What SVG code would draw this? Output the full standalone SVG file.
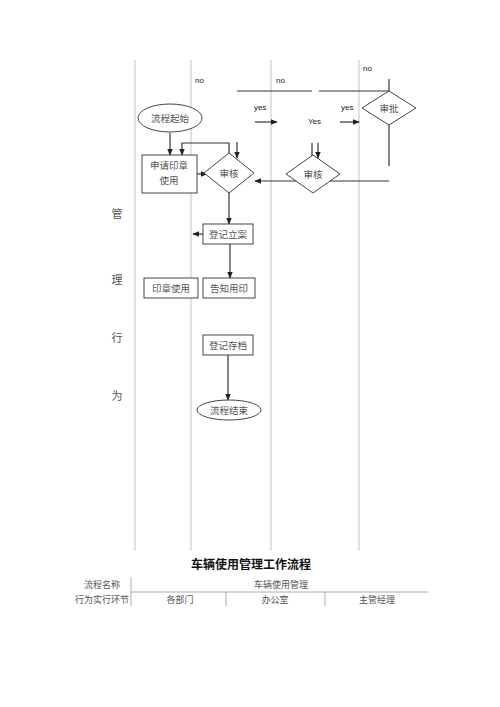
<svg xmlns="http://www.w3.org/2000/svg" width="500" height="707" viewBox="0 0 500 707">
<style>
.lane{stroke:#c4c4c4;stroke-width:1;fill:none}
.ln{stroke:#333;stroke-width:1.2;fill:none}
.box{fill:#fff;stroke:#444;stroke-width:1}
.t{font-family:"Noto Sans CJK SC","Noto Sans",sans-serif;font-size:9.5px;fill:#555;text-anchor:middle}
.en{font-family:"Liberation Sans",Arial,sans-serif;font-size:8px;fill:#222}
.side{font-family:"Noto Sans CJK SC",sans-serif;font-size:11px;fill:#555;text-anchor:middle}
.tb{font-family:"Noto Sans CJK SC",sans-serif;font-size:9px;fill:#555;text-anchor:middle}
.tl{stroke:#999;stroke-width:0.8;fill:none}
</style>
<defs>
<marker id="ah" viewBox="0 0 10 10" refX="9" refY="5" markerWidth="6" markerHeight="6" orient="auto"><path d="M0,1 L10,5 L0,9 z" fill="#222"/></marker>
</defs>
<rect width="500" height="707" fill="#fff"/>
<g id="lanes">
<line class="lane" x1="135" y1="60" x2="135" y2="551"/>
<line class="lane" x1="191" y1="60" x2="191" y2="551"/>
<line class="lane" x1="271" y1="60" x2="271" y2="551"/>
<line class="lane" x1="359" y1="60" x2="359" y2="551"/>
</g>
<g id="side-label">
<text class="side" x="117" y="218">管</text>
<text class="side" x="117" y="284">理</text>
<text class="side" x="117" y="342">行</text>
<text class="side" x="117" y="400">为</text>
</g>
<g id="connectors">
<line class="ln" x1="170" y1="133" x2="170" y2="155" marker-end="url(#ah)"/>
<line class="ln" x1="197" y1="174" x2="207" y2="174" marker-end="url(#ah)"/>
<polyline class="ln" points="229,153 229,143 182,143 182,155" marker-end="url(#ah)"/>
<line class="ln" x1="237" y1="142" x2="237" y2="158" marker-end="url(#ah)"/>
<line class="ln" x1="389" y1="181" x2="255" y2="181" marker-end="url(#ah)"/>
<line class="ln" x1="229" y1="193" x2="229" y2="224" marker-end="url(#ah)"/>
<line class="ln" x1="203" y1="234" x2="193" y2="234" marker-end="url(#ah)"/>
<line class="ln" x1="230" y1="244" x2="230" y2="278" marker-end="url(#ah)"/>
<line class="ln" x1="228" y1="355" x2="228" y2="400" marker-end="url(#ah)"/>
<line class="ln" x1="237" y1="91" x2="312" y2="91"/>
<line class="ln" x1="319" y1="91" x2="389" y2="91"/>
<line class="ln" x1="389" y1="79" x2="389" y2="91"/>
<line class="ln" x1="389" y1="125" x2="389" y2="166"/>
<line class="ln" x1="255" y1="122" x2="277" y2="122" marker-end="url(#ah)"/>
<line class="ln" x1="340" y1="122" x2="359" y2="122" marker-end="url(#ah)"/>
<line class="ln" x1="312" y1="143" x2="312" y2="156"/>
<line class="ln" x1="318" y1="143" x2="318" y2="158" marker-end="url(#ah)"/>
<text class="en" x="195" y="83">no</text>
<text class="en" x="276" y="83">no</text>
<text class="en" x="363" y="71">no</text>
<text class="en" x="254" y="110">yes</text>
<text class="en" x="341" y="110">yes</text>
<text class="en" x="308" y="124">Yes</text>
</g>
<g id="start">
<ellipse class="box" cx="170" cy="118" rx="32" ry="14"/>
<text class="t" x="170" y="122">流程起始</text>
</g>
<g id="apply">
<rect class="box" x="142" y="155" width="55" height="38"/>
<text class="t" x="169" y="169">申请印章</text>
<text class="t" x="169" y="184">使用</text>
</g>
<g id="review1">
<polygon class="box" points="229,153 254,173 229,193 204,173"/>
<text class="t" x="229" y="177">审核</text>
</g>
<g id="review2">
<polygon class="box" points="313,155 340,174 313,193 286,174"/>
<text class="t" x="313" y="178">审核</text>
</g>
<g id="approve">
<polygon class="box" points="389,91 416,108 389,125 362,108"/>
<text class="t" x="389" y="112">审批</text>
</g>
<g id="register">
<rect class="box" x="203" y="224" width="50" height="20"/>
<text class="t" x="228" y="238">登记立案</text>
</g>
<g id="notify">
<rect class="box" x="203" y="278" width="52" height="20"/>
<text class="t" x="229" y="292">告知用印</text>
</g>
<g id="seal-use">
<rect class="box" x="144" y="278" width="54" height="20"/>
<text class="t" x="171" y="292">印章使用</text>
</g>
<g id="archive">
<rect class="box" x="203" y="335" width="50" height="20"/>
<text class="t" x="228" y="349">登记存档</text>
</g>
<g id="end">
<ellipse class="box" cx="229" cy="410" rx="32" ry="10"/>
<text class="t" x="229" y="414">流程结束</text>
</g>
<g id="table">
<text x="251" y="569" font-family="Noto Sans CJK SC,sans-serif" font-size="12" font-weight="bold" fill="#111" text-anchor="middle">车辆使用管理工作流程</text>
<line class="tl" x1="131" y1="577" x2="131" y2="606"/>
<line class="tl" x1="131" y1="592" x2="428" y2="592"/>
<line class="tl" x1="226" y1="592" x2="226" y2="606"/>
<line class="tl" x1="325" y1="592" x2="325" y2="606"/>
<text class="tb" x="102" y="588">流程名称</text>
<text class="tb" x="281" y="588">车辆使用管理</text>
<text class="tb" x="102" y="603">行为实行环节</text>
<text class="tb" x="180" y="603">各部门</text>
<text class="tb" x="275" y="603">办公室</text>
<text class="tb" x="377" y="603">主管经理</text>
</g>
</svg>
